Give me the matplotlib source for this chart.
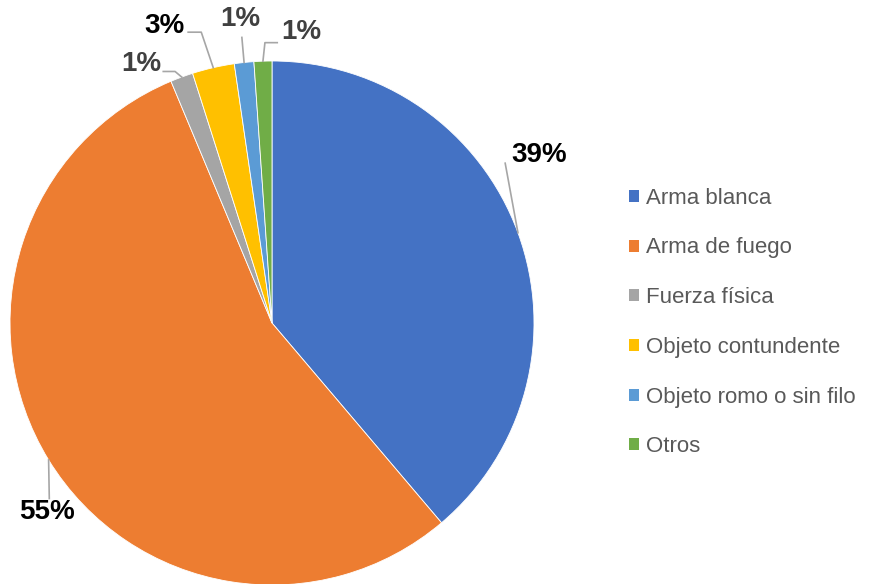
import numpy as np
import matplotlib
matplotlib.use("Agg")
import matplotlib.pyplot as plt
from matplotlib.patches import Patch

# porcentajes (sentido horario desde las 12)
categorias = ["Arma blanca", "Arma de fuego", "Fuerza física",
              "Objeto contundente", "Objeto romo o sin filo", "Otros"]
valores = [38.8, 54.9, 1.4, 2.6, 1.2, 1.1]
colores = ["#4472C4", "#ED7D31", "#A5A5A5", "#FFC000", "#5B9BD5", "#70AD47"]

# posición de cada etiqueta y codo de la línea guía (unidades del radio)
etiquetas_pos = [(1.02, 0.64), (-0.86, -0.72), (-0.50, 0.99),
                 (-0.41, 1.135), (-0.12, 1.16), (0.11, 1.11)]
codos = [None, None, (-0.37, 0.96), (-0.27, 1.11), (-0.115, 1.09), (-0.027, 1.07)]
finales = [(0.89, 0.61), (-0.85, -0.67), (-0.415, 0.96),
           (-0.32, 1.11), (-0.115, 1.09), (0.02, 1.07)]
colores_texto = ["black", "black", "#404040", "black", "#404040", "#404040"]

plt.rcParams["font.family"] = ["Liberation Sans", "DejaVu Sans"]

fig = plt.figure(figsize=(8.74, 5.84), dpi=100)
cx, cy, r = 272, 323, 262
W, H = 874, 584
ax = fig.add_axes([(cx - r) / W, (H - cy - r) / H, 2 * r / W, 2 * r / H])

wedges, _ = ax.pie(valores, colors=colores, startangle=90, counterclock=False,
                   wedgeprops=dict(edgecolor="white", linewidth=0.6))
ax.set_xlim(-1, 1)
ax.set_ylim(-1, 1)
ax.set_aspect("equal")
ax.axis("off")

for w, v, pos, codo, fin, ct in zip(wedges, valores, etiquetas_pos, codos, finales, colores_texto):
    ang = np.deg2rad((w.theta1 + w.theta2) / 2)
    x0, y0 = np.cos(ang), np.sin(ang)
    pts = [(x0, y0)]
    if codo is not None:
        pts.append(codo)
    pts.append(fin)
    xs, ys = zip(*pts)
    ax.plot(xs, ys, color="#A6A6A6", lw=1.2, clip_on=False, zorder=1)
    ax.text(pos[0], pos[1], f"{round(v):.0f}%", ha="center", va="center",
            fontsize=20, fontweight="bold", color=ct, clip_on=False)

handles = [Patch(facecolor=c, edgecolor="none") for c in colores]
fig.legend(handles, categorias, loc="center left", bbox_to_anchor=(629 / W, 1 - 322.5 / H),
           frameon=False, fontsize=16, handlelength=0.45, handleheight=0.45,
           handletextpad=0.3, labelspacing=1.29, borderpad=0, borderaxespad=0,
           labelcolor="#595959")

fig.savefig("out.png", dpi=100)
